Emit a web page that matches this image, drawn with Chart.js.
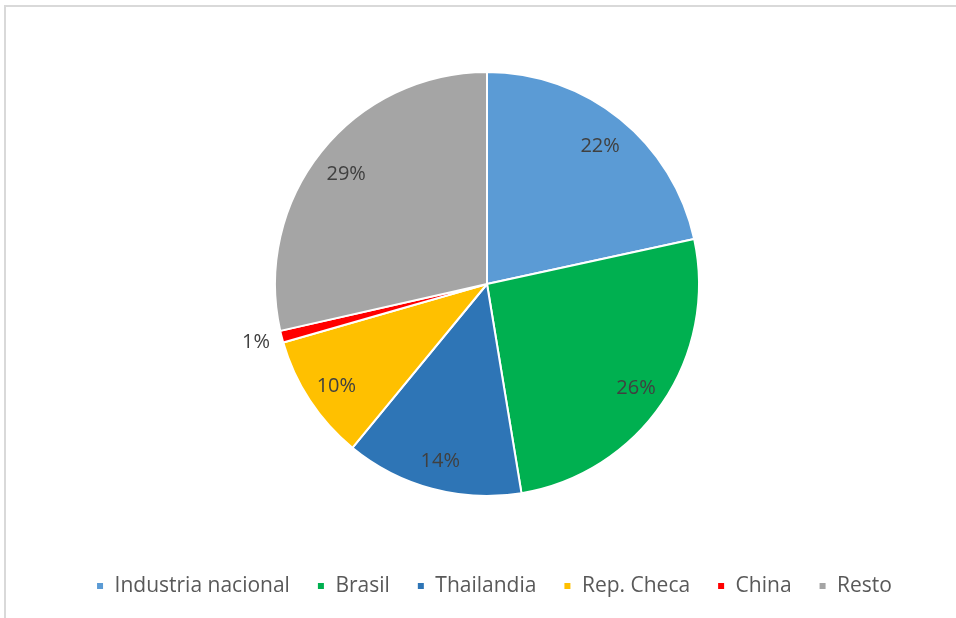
<!DOCTYPE html>
<html><head><meta charset="utf-8">
<script src="https://cdn.jsdelivr.net/npm/chart.js@4"></script>
<style>
html,body{margin:0;padding:0;background:#fff;width:956px;height:618px;overflow:hidden}
#frame{position:absolute;left:4px;top:5px;width:1000px;height:700px;border-top:2px solid #d9d9d9;border-left:2px solid #d9d9d9}
#c{position:absolute;left:0;top:0}
</style></head><body>
<div id="frame"></div>
<canvas id="c" width="956" height="618"></canvas>
<script>
const categories = ["Industria nacional","Brasil","Thailandia","Rep. Checa","China","Resto"];
const values = [21.6, 25.8, 13.55, 9.6, 0.9, 28.55];
const colors = ["#5B9BD5","#00B050","#2E75B6","#FFC000","#FF0000","#A5A5A5"];
const FONT = "'Open Sans', sans-serif";

const labelPlugin = {
  id:'pieLabels',
  afterLayout(chart){
    const lg = chart.legend;
    if (lg) { lg.left += 7; lg.right += 7; }
  },
  afterDatasetsDraw(chart){
    const ctx = chart.ctx;
    const meta = chart.getDatasetMeta(0);
    const total = values.reduce((a,b)=>a+b,0);
    ctx.save();
    ctx.font = "20px " + FONT;
    ctx.fillStyle = "#404040";
    ctx.textBaseline = "middle";
    meta.data.forEach((arc,i)=>{
      const p = arc.getProps(['x','y','startAngle','endAngle','outerRadius'],true);
      const mid = (p.startAngle+p.endAngle)/2;
      const txt = Math.round(values[i]/total*100) + "%";
      let r;
      if (values[i]/total < 0.03) { r = p.outerRadius + 12; ctx.textAlign = "right"; }
      else { r = p.outerRadius*0.85; ctx.textAlign = "center"; }
      ctx.fillText(txt, p.x + Math.cos(mid)*r, p.y + Math.sin(mid)*r + 3);
    });
    ctx.restore();
  }
};

new Chart(document.getElementById('c'), {
  type:'pie',
  data:{labels:categories, datasets:[{data:values, backgroundColor:colors, borderColor:'#ffffff', borderWidth:2, radius:212}]},
  options:{
    responsive:false, animation:false,
    layout:{padding:{top:19.5,bottom:11.5,left:18,right:0}},
    plugins:{
      tooltip:{enabled:false},
      legend:{position:'bottom', labels:{font:{family:FONT,size:21}, color:'#595959', boxWidth:8, boxHeight:8, padding:27}}
    }
  },
  plugins:[labelPlugin]
});
</script>
</body></html>
